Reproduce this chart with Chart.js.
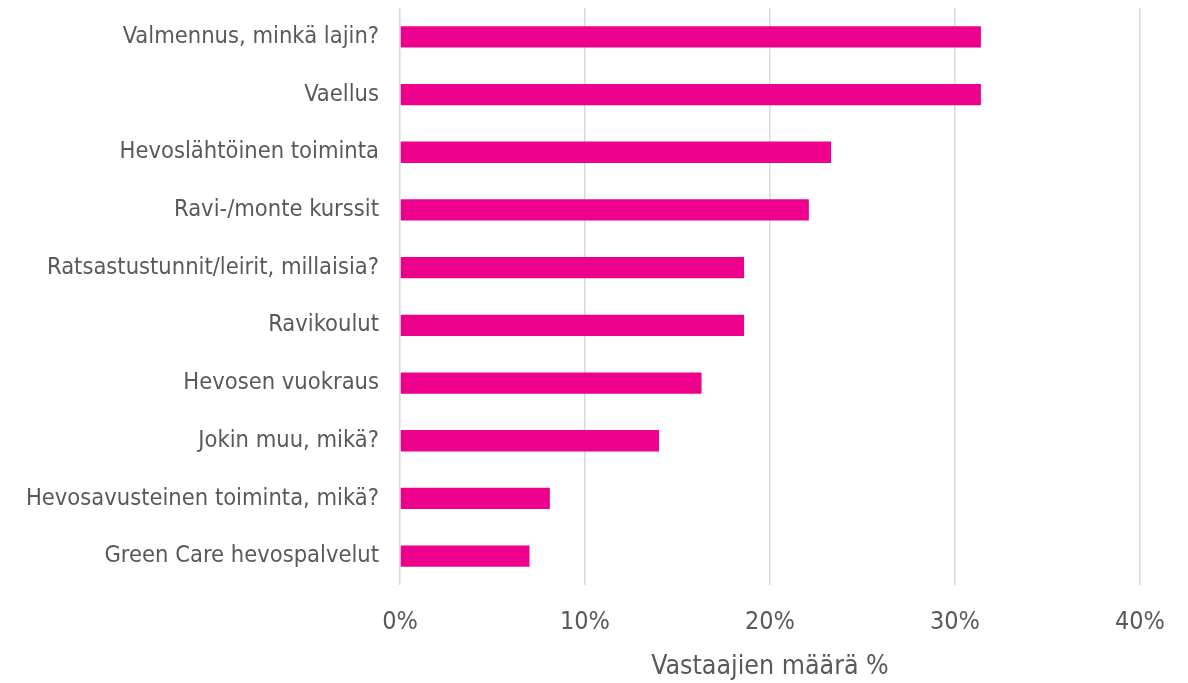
<!DOCTYPE html>
<html>
<head>
<meta charset="utf-8">
<script src="https://cdn.jsdelivr.net/npm/chart.js@4"></script>
<style>
html,body{margin:0;padding:0;background:#fff;}
#wrap{width:1188px;height:683px;}
</style>
</head>
<body>
<div id="wrap"><canvas id="c" width="1188" height="683"></canvas></div>
<script>
const categories = [
  "Valmennus, minkä lajin?",
  "Vaellus",
  "Hevoslähtöinen toiminta",
  "Ravi-/monte kurssit",
  "Ratsastustunnit/leirit, millaisia?",
  "Ravikoulut",
  "Hevosen vuokraus",
  "Jokin muu, mikä?",
  "Hevosavusteinen toiminta, mikä?",
  "Green Care hevospalvelut"
];
const values = [31.4, 31.4, 23.3, 22.1, 18.6, 18.6, 16.3, 14.0, 8.1, 7.0];
const xTicks = [0, 10, 20, 30, 40];
const xTitle = "Vastaajien määrä %";

const FONT = "'DejaVu Sans Condensed', 'DejaVu Sans', sans-serif";
const TXT = "#595959";

new Chart(document.getElementById('c'), {
  type: 'bar',
  data: {
    labels: categories,
    datasets: [{
      data: values,
      backgroundColor: '#EC008C',
      borderWidth: 0,
      barPercentage: 0.37,
      categoryPercentage: 1.0
    }]
  },
  options: {
    indexAxis: 'y',
    responsive: false,
    animation: false,
    devicePixelRatio: 1,
    layout: { padding: { top: 8, right: 48, bottom: 0, left: 0 } },
    plugins: { legend: { display: false }, tooltip: { enabled: false } },
    scales: {
      x: {
        min: 0, max: 40,
        afterBuildTicks: (s) => { s.ticks = xTicks.map(v => ({ value: v })); },
        afterFit: (s) => { s.height = 98; s.paddingLeft = 0; s.paddingRight = 0; s.paddingTop = 0; s.paddingBottom = 0; },
        ticks: {
          callback: (v) => v + '%',
          color: TXT,
          font: { family: FONT, size: 25 },
          padding: 22
        },
        grid: { color: '#d9d9d9', lineWidth: 1.5, drawTicks: false },
        border: { display: false },
        title: {
          display: true,
          text: xTitle,
          color: TXT,
          font: { family: FONT, size: 26.5 },
          padding: { top: 5, bottom: 0 }
        }
      },
      y: {
        afterFit: (s) => { s.width = 400; s.paddingTop = 0; s.paddingBottom = 0; },
        ticks: {
          color: TXT,
          font: { family: FONT, size: 23.5 },
          padding: 21
        },
        grid: { display: false, drawTicks: false },
        border: { display: false }
      }
    }
  }
});
</script>
</body>
</html>
